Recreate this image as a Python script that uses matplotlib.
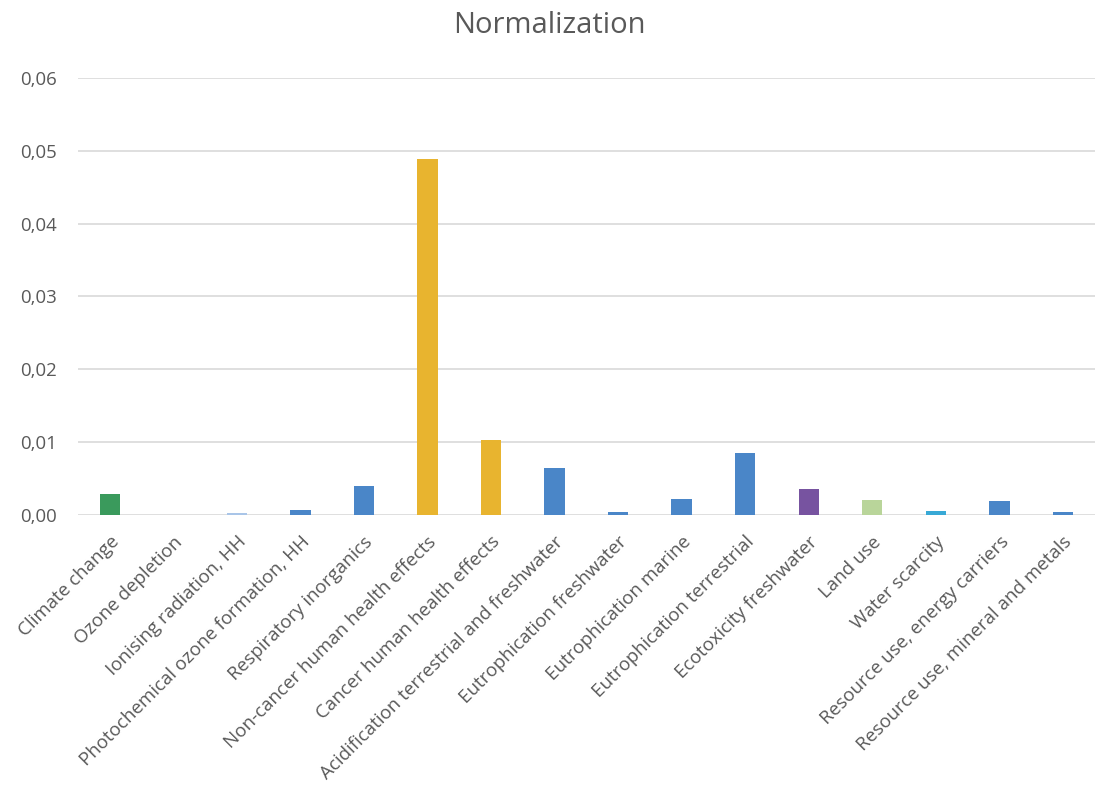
import matplotlib
matplotlib.use("Agg")
import matplotlib.pyplot as plt
from matplotlib.ticker import FuncFormatter

categories = [
    "Climate change",
    "Ozone depletion",
    "Ionising radiation, HH",
    "Photochemical ozone formation, HH",
    "Respiratory inorganics",
    "Non-cancer human health effects",
    "Cancer human health effects",
    "Acidification terrestrial and freshwater",
    "Eutrophication freshwater",
    "Eutrophication marine",
    "Eutrophication terrestrial",
    "Ecotoxicity freshwater",
    "Land use",
    "Water scarcity",
    "Resource use, energy carriers",
    "Resource use, mineral and metals",
]
values = [0.0029, 0.0, 0.0002, 0.0007, 0.0040, 0.0489, 0.0103, 0.0064,
          0.0004, 0.0022, 0.0085, 0.0036, 0.0021, 0.0005, 0.0019, 0.0004]
colors = ["#3a9a5c", "#4a86c8", "#a9c5e8", "#4a86c8", "#4a86c8", "#e8b42f",
          "#e8b42f", "#4a86c8", "#4a86c8", "#4a86c8", "#4a86c8", "#7753a0",
          "#b9d59a", "#38a9d6", "#4a86c8", "#4a86c8"]
yticks = [0.0, 0.01, 0.02, 0.03, 0.04, 0.05, 0.06]

plt.rcParams["font.family"] = ["Open Sans", "DejaVu Sans"]
text_color = "#595959"

fig = plt.figure(figsize=(10.98, 7.97), dpi=100)
ax = fig.add_axes([0.071, 0.354, 0.926, 0.548])

x = range(len(categories))
ax.bar(x, values, width=0.32, color=colors, zorder=3)

ax.set_ylim(0, 0.06)
ax.set_xlim(-0.5, len(categories) - 0.5)
ax.set_yticks(yticks)
ax.yaxis.set_major_formatter(FuncFormatter(lambda v, p: f"{v:.2f}".replace(".", ",")))
ax.grid(axis="y", color="#d9d9d9", linewidth=1.2, zorder=0)
for s in ax.spines.values():
    s.set_visible(False)
ax.tick_params(axis="both", length=0, colors=text_color)
ax.tick_params(axis="y", pad=15, labelsize=13.4)

ax.set_xticks(list(x))
ax.set_xticklabels(categories, rotation=45, ha="right", rotation_mode="anchor",
                   color=text_color, fontsize=13.5)
ax.tick_params(axis="x", pad=13)

fig.text(0.5, 0.968, "Normalization", ha="center", va="center",
         fontsize=21, color=text_color)

fig.savefig("out.png", dpi=100, facecolor="white")
